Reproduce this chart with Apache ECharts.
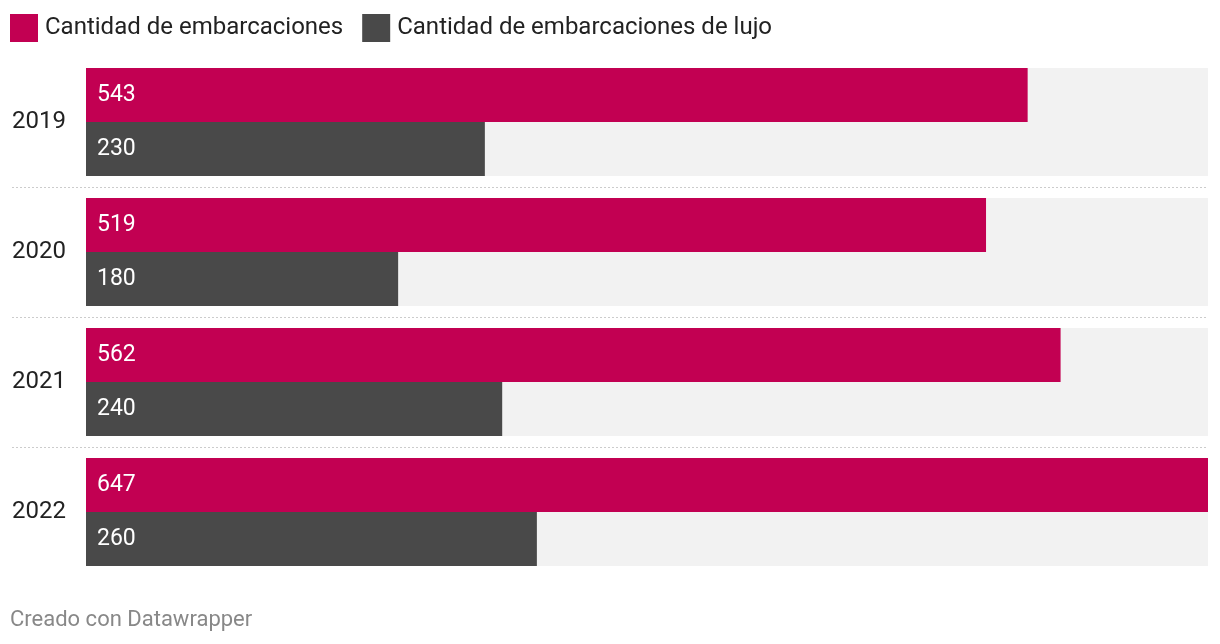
<!DOCTYPE html>
<html><head><meta charset="utf-8">
<script src="https://cdn.jsdelivr.net/npm/echarts@6/dist/echarts.min.js"></script>
<style>html,body{margin:0;padding:0;background:#fff}#c{width:1220px;height:644px}</style>
</head><body><div id="c"></div>
<script>
const years = ['2019', '2020', '2021', '2022'];
const embarcaciones = [543, 519, 562, 647];
const embarcacionesLujo = [230, 180, 240, 260];
const seriesNames = ['Cantidad de embarcaciones', 'Cantidad de embarcaciones de lujo'];
const footerText = 'Creado con Datawrapper';

const FONT = 'Roboto, sans-serif';
const chart = echarts.init(document.getElementById('c'), null, {renderer: 'canvas'});
const labelCfg = {show: true, position: 'insideLeft', distance: 11, color: '#fff', fontSize: 23, fontFamily: FONT, padding: [2, 0, 0, 0]};
chart.setOption({
  animation: false,
  textStyle: {fontFamily: FONT},
  legend: {
    left: 5, top: 9, itemWidth: 28, itemHeight: 28, itemGap: 19, icon: 'rect',
    textStyle: {fontSize: 24, color: '#222', fontFamily: FONT, padding: [0, 0, 0, 2]},
    data: seriesNames
  },
  grid: {left: 86, right: 12, top: 57, bottom: 67},
  xAxis: {type: 'value', min: 0, max: 647, show: false},
  yAxis: {
    type: 'category', data: years, inverse: true,
    axisLine: {show: false}, axisTick: {show: false},
    axisLabel: {align: 'left', margin: 74, fontSize: 24, color: '#222', fontFamily: FONT, padding: [8, 0, 0, 0]}
  },
  series: [
    {name: seriesNames[0], type: 'bar', data: embarcaciones, barWidth: 54, barGap: '0%',
     itemStyle: {color: '#c20052'}, label: labelCfg,
     showBackground: true, backgroundStyle: {color: '#f2f2f2'}},
    {name: seriesNames[1], type: 'bar', data: embarcacionesLujo, barWidth: 54, barGap: '0%',
     itemStyle: {color: '#494949'}, label: labelCfg,
     showBackground: true, backgroundStyle: {color: '#f2f2f2'}}
  ]
});
// separators between categories
const graphics = [];
for (let i = 0; i < years.length - 1; i++) {
  const a = chart.convertToPixel({yAxisIndex: 0}, years[i]);
  const b = chart.convertToPixel({yAxisIndex: 0}, years[i + 1]);
  const y = Math.round((a + b) / 2) + 0.5;
  graphics.push({type: 'line', shape: {x1: 12, y1: y, x2: 1208, y2: y},
    style: {stroke: '#cccccc', lineWidth: 1, lineDash: [2, 2]}, silent: true});
}
graphics.push({type: 'text', left: 10, top: 609,
  style: {text: footerText, fontSize: 22, fill: '#888', fontFamily: FONT}});
chart.setOption({graphic: graphics});
</script></body></html>
